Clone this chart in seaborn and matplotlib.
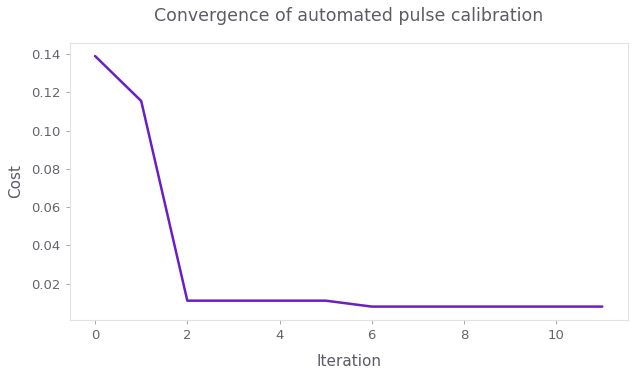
import matplotlib
matplotlib.use("Agg")
import matplotlib.pyplot as plt
import seaborn as sns
import pandas as pd

# data
iterations = [0, 1, 2, 3, 4, 5, 6, 7, 8, 9, 10, 11]
cost = [0.139, 0.1155, 0.0111, 0.0111, 0.0111, 0.0111, 0.0080, 0.0080, 0.0080, 0.0080, 0.0080, 0.0080]

df = pd.DataFrame({"Iteration": iterations, "Cost": cost})

sns.set_style("white")
plt.rcParams['font.family'] = ['DejaVu Sans']
text_col = '#5e5a66'

fig, ax = plt.subplots(figsize=(6.34, 3.76), dpi=100)
sns.lineplot(data=df, x="Iteration", y="Cost", color='#6a1fc2', lw=1.8, ax=ax)

for s in ax.spines.values():
    s.set_color('#e2e2e2')
    s.set_linewidth(0.8)

ax.tick_params(axis='both', colors='#9a9a9a', labelcolor='#66636d', labelsize=9.5,
               length=3, width=0.6, direction='out', bottom=True, left=True)
ax.set_yticks([0.02, 0.04, 0.06, 0.08, 0.10, 0.12, 0.14])
ax.set_xticks([0, 2, 4, 6, 8, 10])
ax.set_ylim(0.0012, 0.1457)
ax.set_xlabel("Iteration", color=text_col, fontsize=11, labelpad=9)
ax.set_ylabel("Cost", color=text_col, fontsize=11, labelpad=6)
ax.set_title("Convergence of automated pulse calibration", color=text_col, fontsize=12.5, pad=16)

fig.subplots_adjust(left=0.11, right=0.99, top=0.885, bottom=0.15)
fig.savefig("out.png", dpi=100)
